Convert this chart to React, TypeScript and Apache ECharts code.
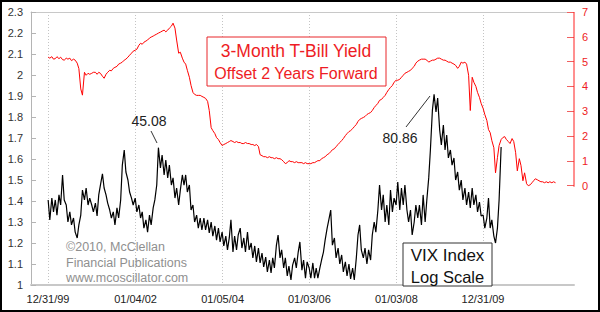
import React, { useEffect, useRef } from 'react';
import * as echarts from 'echarts';

const FONT = "'Liberation Sans', Arial, sans-serif";

// x axis
const axisStart = '1999-08-10';
const axisEnd = '2012-02-03';
const tickDates = ['1999-12-31', '2002-01-04', '2004-01-05', '2006-01-03', '2008-01-03', '2009-12-31'];

// left axis: log10(VIX), semi-monthly readings (1st and 15th of each month)
const vix2000 = [1.405, 1.31, 1.414, 1.348, 1.405, 1.333, 1.429, 1.381, 1.524, 1.405, 1.381, 1.3, 1.348, 1.286, 1.319, 1.252, 1.224, 1.286, 1.333, 1.452, 1.405, 1.462, 1.381, 1.414];
const vix2001 = [1.381, 1.348, 1.39, 1.329, 1.429, 1.476, 1.529, 1.462, 1.429, 1.39, 1.357, 1.319, 1.348, 1.286, 1.367, 1.319, 1.405, 1.571, 1.643, 1.538, 1.5, 1.443, 1.414, 1.381];
const vix2002 = [1.414, 1.348, 1.381, 1.319, 1.348, 1.271, 1.31, 1.252, 1.333, 1.286, 1.367, 1.405, 1.476, 1.654, 1.557, 1.619, 1.524, 1.595, 1.51, 1.571, 1.476, 1.51, 1.414, 1.462];
const vix2003 = [1.381, 1.452, 1.524, 1.476, 1.524, 1.443, 1.476, 1.357, 1.381, 1.3, 1.333, 1.271, 1.319, 1.262, 1.319, 1.262, 1.31, 1.248, 1.3, 1.233, 1.281, 1.214, 1.271, 1.205];
const vix2004 = [1.252, 1.186, 1.233, 1.167, 1.224, 1.31, 1.157, 1.233, 1.167, 1.238, 1.271, 1.176, 1.224, 1.157, 1.252, 1.167, 1.2, 1.129, 1.186, 1.11, 1.176, 1.105, 1.152, 1.086];
const vix2005 = [1.133, 1.062, 1.119, 1.057, 1.129, 1.081, 1.19, 1.238, 1.129, 1.167, 1.081, 1.129, 1.043, 1.09, 1.024, 1.095, 1.129, 1.081, 1.157, 1.205, 1.071, 1.119, 1.033, 1.11];
const vix2006 = [1.081, 1.033, 1.105, 1.033, 1.081, 1.033, 1.081, 1.119, 1.157, 1.214, 1.271, 1.31, 1.357, 1.19, 1.224, 1.129, 1.176, 1.1, 1.143, 1.062, 1.11, 1.043, 1.1, 1.029];
const vix2007 = [1.081, 1.024, 1.129, 1.238, 1.286, 1.167, 1.129, 1.176, 1.1, 1.167, 1.119, 1.238, 1.3, 1.252, 1.357, 1.476, 1.357, 1.429, 1.3, 1.381, 1.286, 1.452, 1.348, 1.414];
const vix2008 = [1.381, 1.49, 1.357, 1.462, 1.381, 1.476, 1.357, 1.3, 1.357, 1.238, 1.3, 1.381, 1.319, 1.381, 1.286, 1.429, 1.3, 1.405, 1.51, 1.643, 1.833, 1.908, 1.824, 1.89];
const vix2009 = [1.738, 1.667, 1.762, 1.643, 1.714, 1.605, 1.643, 1.571, 1.605, 1.5, 1.538, 1.452, 1.5, 1.405, 1.462, 1.381, 1.443, 1.367, 1.462, 1.381, 1.429, 1.348, 1.395, 1.329];
const vix2010 = [1.333, 1.271, 1.319, 1.414, 1.271, 1.31, 1.233, 1.2, 1.271, 1.405, 1.657];

// right axis: 3-month T-bill yield shifted 2 years forward, semi-monthly
const tb2000 = [5.18, 5.14, 5.2, 5.1, 5.12, 5.2, 5.12, 5.18, 5.08, 5.06, 5.14, 5.1, 5.14, 5.04, 5.1, 5.06, 4.94, 4.72, 3.9, 3.65, 4.57, 4.45, 4.53, 4.49];
const tb2001 = [4.53, 4.57, 4.57, 4.49, 4.57, 4.53, 4.41, 4.33, 4.49, 4.57, 4.65, 4.63, 4.73, 4.77, 4.81, 4.9, 4.94, 4.98, 5.06, 5.1, 5.18, 5.26, 5.34, 5.42];
const tb2002 = [5.46, 5.5, 5.66, 5.74, 5.7, 5.78, 5.83, 5.87, 5.95, 5.99, 6.03, 6.07, 6.11, 6.15, 6.19, 6.23, 6.27, 6.2, 6.27, 6.35, 6.43, 6.55, 6.35, 5.87];
const tb2003 = [5.34, 5.38, 5.14, 4.98, 4.9, 4.65, 4.37, 4.04, 3.76, 3.68, 3.64, 3.64, 3.64, 3.6, 3.56, 3.52, 3.4, 3.03, 2.34, 2.22, 2.1, 1.94, 1.86, 1.74];
const tb2004 = [1.62, 1.66, 1.7, 1.74, 1.78, 1.82, 1.78, 1.74, 1.78, 1.74, 1.74, 1.7, 1.7, 1.74, 1.7, 1.7, 1.66, 1.66, 1.62, 1.66, 1.58, 1.25, 1.21, 1.17];
const tb2005 = [1.17, 1.13, 1.17, 1.13, 1.13, 1.09, 1.13, 1.09, 1.09, 1.05, 0.97, 0.89, 0.93, 1.01, 0.97, 0.97, 0.93, 0.97, 0.93, 0.93, 0.93, 0.89, 0.93, 0.89];
const tb2006 = [0.89, 0.89, 0.93, 0.93, 0.97, 1.01, 1.01, 1.09, 1.13, 1.17, 1.25, 1.29, 1.37, 1.45, 1.49, 1.58, 1.66, 1.74, 1.82, 1.9, 2.02, 2.1, 2.18, 2.22];
const tb2007 = [2.3, 2.38, 2.47, 2.59, 2.67, 2.71, 2.75, 2.79, 2.87, 2.91, 2.95, 3.03, 3.15, 3.23, 3.32, 3.44, 3.48, 3.56, 3.64, 3.76, 3.88, 3.96, 4.04, 4.17];
const tb2008 = [4.25, 4.25, 4.29, 4.37, 4.45, 4.53, 4.57, 4.61, 4.65, 4.73, 4.81, 4.94, 5.02, 5.06, 5.1, 5.1, 5.1, 5.06, 4.98, 5.02, 5.06, 5.06, 5.1, 5.14];
const tb2009 = [5.14, 5.1, 5.06, 5.06, 5.02, 4.98, 4.98, 4.94, 4.9, 4.85, 4.73, 4.81, 4.98, 4.94, 4.98, 4.9, 4.45, 3.03, 4.37, 4.17, 4.0, 3.76, 3.56, 3.32];
const tb2010 = [3.11, 2.87, 2.63, 2.26, 2.14, 1.82, 1.53, 0.52, 1.13, 1.62, 1.86, 1.94, 1.98, 1.86, 1.78, 1.7, 1.9, 1.78, 1.33, 0.6, 1.09, 0.81, 0.2, 0.52];
const tb2011 = [0.08, 0.0, 0.04, 0.12, 0.2, 0.28, 0.24, 0.2, 0.16, 0.16, 0.12, 0.16, 0.12, 0.16, 0.12, 0.16, 0.12];

const rightLabels = [0, 1, 2, 3, 4, 5, 6, 7];

const vixYears: [number, number[]][] = [
  [2000, vix2000], [2001, vix2001], [2002, vix2002], [2003, vix2003], [2004, vix2004], [2005, vix2005],
  [2006, vix2006], [2007, vix2007], [2008, vix2008], [2009, vix2009], [2010, vix2010],
];
const tbYears: [number, number[]][] = [
  [2000, tb2000], [2001, tb2001], [2002, tb2002], [2003, tb2003], [2004, tb2004], [2005, tb2005],
  [2006, tb2006], [2007, tb2007], [2008, tb2008], [2009, tb2009], [2010, tb2010], [2011, tb2011],
];

const pad = (n: number) => (n < 10 ? '0' + n : '' + n);
const ts = (s: string) => {
  const [y, m, d] = s.split('-').map(Number);
  return new Date(y, m - 1, d).getTime();
};
function toSeries(years: [number, number[]][]) {
  const out: [number, number][] = [];
  years.forEach(([y, vals]) => {
    vals.forEach((v, k) => {
      const m = Math.floor(k / 2) + 1;
      const d = k % 2 === 0 ? 1 : 15;
      out.push([ts(`${y}-${pad(m)}-${pad(d)}`), v]);
    });
  });
  return out;
}

function fmtDate(v: number) {
  const d = new Date(v);
  return `${pad(d.getMonth() + 1)}/${pad(d.getDate())}/${pad(d.getFullYear() % 100)}`;
}

const staticGraphics: any[] = [
  // title box
  { type: 'rect', z: 100, shape: { x: 207, y: 37, width: 179, height: 49 }, style: { fill: '#fff', stroke: '#e8262b', lineWidth: 1 } },
  { type: 'text', z: 101, x: 296, y: 51, style: { text: '3-Month T-Bill Yield', fill: '#ee1c24', font: `17.5px ${FONT}`, textAlign: 'center', align: 'center', textVerticalAlign: 'middle', verticalAlign: 'middle' } },
  { type: 'text', z: 101, x: 296, y: 73, style: { text: 'Offset 2 Years Forward', fill: '#ee1c24', font: `16px ${FONT}`, textAlign: 'center', align: 'center', textVerticalAlign: 'middle', verticalAlign: 'middle' } },
  // VIX box
  { type: 'rect', z: 100, shape: { x: 403, y: 243, width: 89, height: 43 }, style: { fill: '#fff', stroke: '#333', lineWidth: 1 } },
  { type: 'text', z: 101, x: 447.5, y: 255, style: { text: 'VIX Index', fill: '#111', font: `17px ${FONT}`, textAlign: 'center', align: 'center', textVerticalAlign: 'middle', verticalAlign: 'middle' } },
  { type: 'text', z: 101, x: 447.5, y: 277, style: { text: 'Log Scale', fill: '#111', font: `16.5px ${FONT}`, textAlign: 'center', align: 'center', textVerticalAlign: 'middle', verticalAlign: 'middle' } },
  // copyright
  { type: 'text', z: 101, x: 66, y: 247, style: { text: '©2010, McClellan', fill: '#8f8f8f', font: `12.5px ${FONT}`, textVerticalAlign: 'middle', verticalAlign: 'middle' } },
  { type: 'text', z: 101, x: 66, y: 262.5, style: { text: 'Financial Publications', fill: '#8f8f8f', font: `12.5px ${FONT}`, textVerticalAlign: 'middle', verticalAlign: 'middle' } },
  { type: 'text', z: 101, x: 66, y: 278, style: { text: 'www.mcoscillator.com', fill: '#8f8f8f', font: `12.5px ${FONT}`, textVerticalAlign: 'middle', verticalAlign: 'middle' } },
  // peak annotations
  { type: 'text', z: 101, x: 149, y: 121, style: { text: '45.08', fill: '#222', font: `14px ${FONT}`, textAlign: 'center', align: 'center', textVerticalAlign: 'middle', verticalAlign: 'middle' } },
  { type: 'line', z: 101, shape: { x1: 151, y1: 131, x2: 157, y2: 143 }, style: { stroke: '#333', lineWidth: 1 } },
  { type: 'text', z: 101, x: 400, y: 138, style: { text: '80.86', fill: '#222', font: `14px ${FONT}`, textAlign: 'center', align: 'center', textVerticalAlign: 'middle', verticalAlign: 'middle' } },
  { type: 'line', z: 101, shape: { x1: 406, y1: 127, x2: 430, y2: 96 }, style: { stroke: '#333', lineWidth: 1 } },
];

export default function App() {
  const ref = useRef<HTMLDivElement>(null);
  useEffect(() => {
    document.body.style.margin = '0';
    const chart = echarts.init(ref.current!, null, { renderer: 'svg' });
    const tickTs = tickDates.map(ts);
    const xMin = ts(axisStart);
    const xMax = ts(axisEnd);
    const option: any = {
      animation: false,
      backgroundColor: '#fff',
      grid: { left: 31, right: 26, top: 12, bottom: 27, containLabel: false },
      xAxis: [
        {
          type: 'value',
          min: xMin,
          max: xMax,
          axisLine: { show: true, onZero: false, lineStyle: { color: '#c8c8c8', width: 2 } },
          axisTick: { show: false, customValues: tickTs },
          axisLabel: { customValues: tickTs, formatter: (v: number) => fmtDate(v), color: '#222', fontSize: 11, fontFamily: FONT, margin: 8, hideOverlap: false },
          splitLine: { show: true, lineStyle: { color: '#c4c4c4', type: [1, 2], width: 1 } },
        },
        {
          type: 'value',
          position: 'top',
          min: xMin,
          max: xMax,
          axisLine: { show: true, onZero: false, lineStyle: { color: '#c8c8c8', width: 1 } },
          axisTick: { show: false },
          axisLabel: { show: false },
          splitLine: { show: false },
        },
      ],
      yAxis: [
        {
          type: 'value',
          min: 1,
          max: 2.3,
          interval: 0.1,
          position: 'left',
          axisLine: { show: true, onZero: false, lineStyle: { color: '#b4b4b4', width: 1 } },
          axisTick: { show: true, inside: true, length: 5, lineStyle: { color: '#b4b4b4' } },
          axisLabel: { color: '#333', fontSize: 11, fontFamily: FONT, margin: 8 },
          splitLine: { show: false },
        },
        {
          type: 'value',
          min: -4,
          max: 7,
          interval: 1,
          position: 'right',
          axisLine: { show: false, onZero: false },
          axisTick: { show: true, inside: true, length: 7, customValues: rightLabels, lineStyle: { color: '#f06060' } },
          axisLabel: { customValues: rightLabels, color: '#ee1c24', fontSize: 11, fontFamily: FONT, margin: 8 },
          splitLine: { show: false },
        },
      ],
      series: [
        {
          type: 'line',
          name: 'VIX',
          xAxisIndex: 0,
          yAxisIndex: 0,
          data: toSeries(vixYears),
          showSymbol: false,
          symbol: 'none',
          lineStyle: { color: '#000', width: 1.2 },
          z: 3,
        },
        {
          type: 'line',
          name: 'T-Bill',
          xAxisIndex: 0,
          yAxisIndex: 1,
          data: toSeries(tbYears),
          showSymbol: false,
          symbol: 'none',
          lineStyle: { color: '#ff0000', width: 1 },
          z: 4,
        },
      ],
    };
    chart.setOption(option);
    const xr = chart.convertToPixel({ xAxisIndex: 0 }, xMax) as number;
    const y7 = chart.convertToPixel({ yAxisIndex: 1 }, 7) as number;
    const y0 = chart.convertToPixel({ yAxisIndex: 1 }, 0) as number;
    chart.setOption({
      graphic: [
        ...staticGraphics,
        { type: 'line', z: 99, shape: { x1: xr, y1: y7, x2: xr, y2: y0 + 1 }, style: { stroke: '#ff2020', lineWidth: 1 } },
      ],
    });
    return () => chart.dispose();
  }, []);
  return (
    <div style={{ position: 'relative', width: 600, height: 312 }}>
      <div ref={ref} style={{ width: 600, height: 312 }} />
      <div style={{ position: 'absolute', left: 0, top: 0, width: 600, height: 312, border: '2px solid #000', boxSizing: 'border-box', pointerEvents: 'none' }} />
    </div>
  );
}
